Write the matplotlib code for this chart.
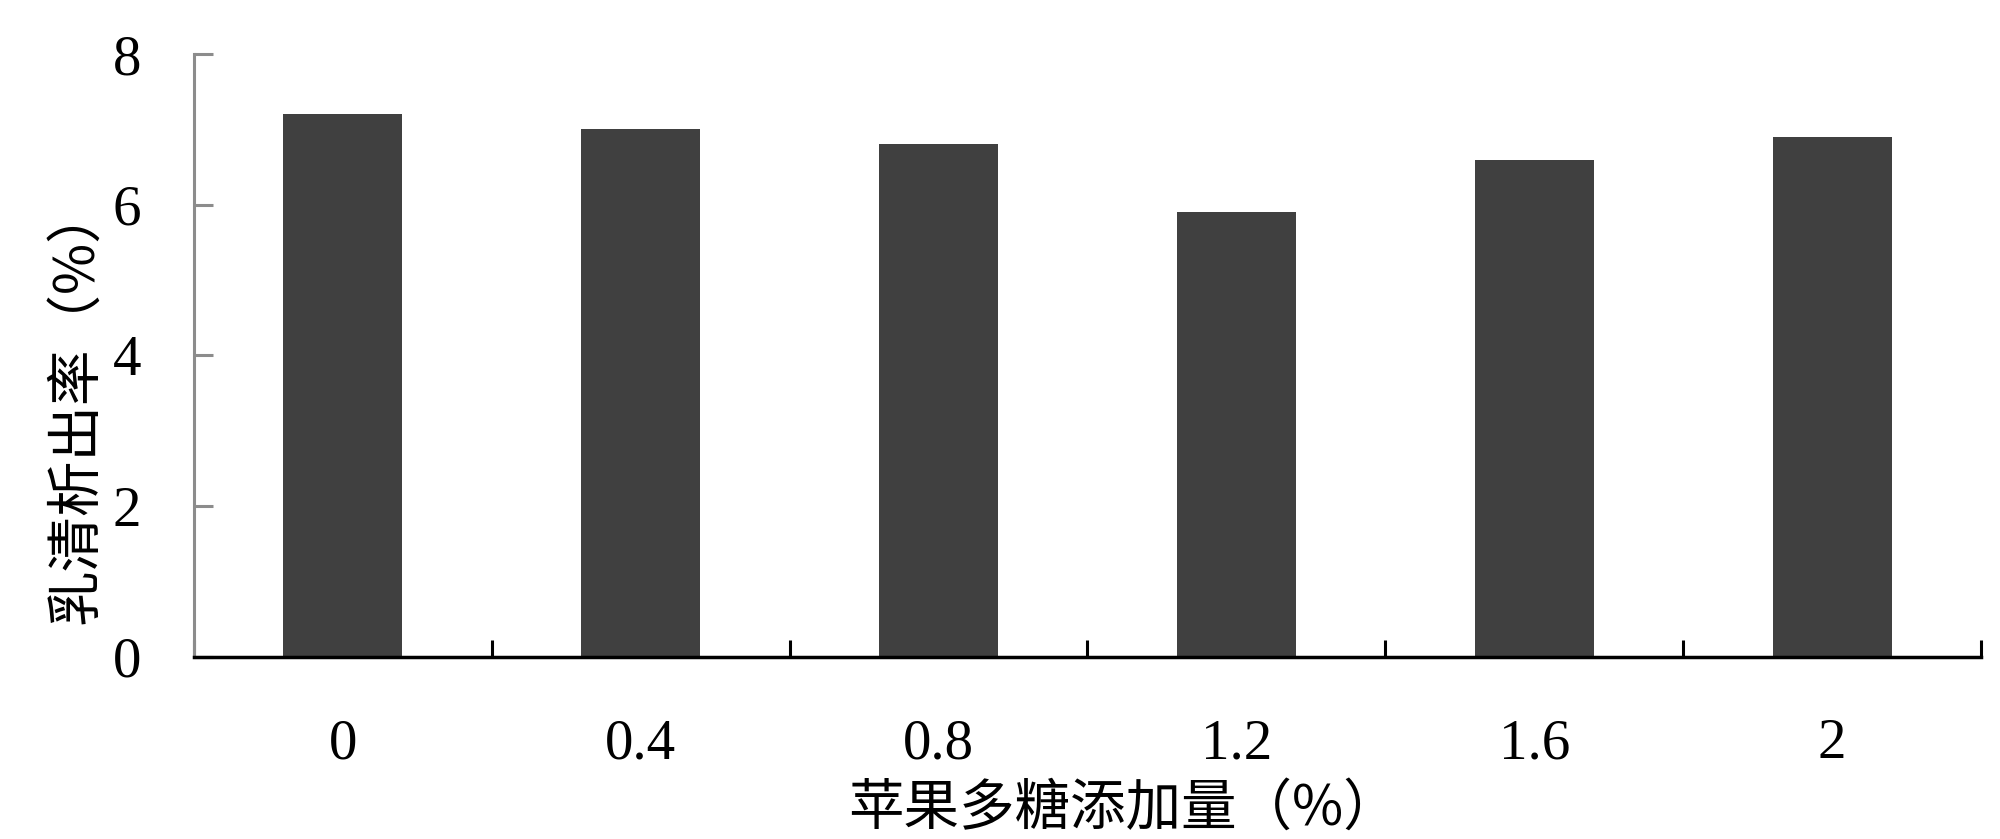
import matplotlib.pyplot as plt
import numpy as np

# data
categories = ['0', '0.4', '0.8', '1.2', '1.6', '2']
values = [7.2, 7.0, 6.8, 5.9, 6.6, 6.9]
yticks = [0, 2, 4, 6, 8]

num_font = ['Liberation Serif', 'DejaVu Serif']
cjk_font = ['Noto Sans CJK SC', 'Liberation Serif']

fig = plt.figure(figsize=(20, 8.39), dpi=100)
ax = fig.add_axes([0.097, 0.217, 0.8935, 0.7186])

x = np.arange(len(categories))
ax.bar(x, values, width=0.4, color='#404040')

ax.set_xlim(-0.5, len(categories) - 0.5)
ax.set_ylim(0, 8)

# y axis: grey spine and ticks
ax.set_yticks(yticks)
ax.set_yticklabels([str(t) for t in yticks], fontsize=41, family=num_font)
ax.tick_params(axis='y', direction='in', length=14, width=2.2, color='#8c8c8c', pad=38)

# x axis: boundary ticks, labels at centres
ax.set_xticks(np.arange(-0.5, len(categories), 1.0))
ax.set_xticklabels([])
ax.tick_params(axis='x', which='major', direction='in', length=12, width=2.2, color='black')
ax.set_xticks(x, minor=True)
ax.set_xticklabels(categories, minor=True, fontsize=41, family=num_font)
ax.tick_params(axis='x', which='minor', length=0, pad=44)

# spines
ax.spines['right'].set_visible(False)
ax.spines['top'].set_visible(False)
ax.spines['left'].set_color('#8c8c8c')
ax.spines['left'].set_linewidth(2.2)
ax.spines['bottom'].set_color('black')
ax.spines['bottom'].set_linewidth(2.5)

# labels
ax.set_ylabel('乳清析出率（%）', fontsize=40, family=cjk_font)
ax.yaxis.set_label_coords(-0.05, 0.42)
ax.set_xlabel('苹果多糖添加量（%）', fontsize=40, family=cjk_font)
ax.xaxis.set_label_coords(0.52, -0.205)

fig.savefig('out.png', dpi=100)
